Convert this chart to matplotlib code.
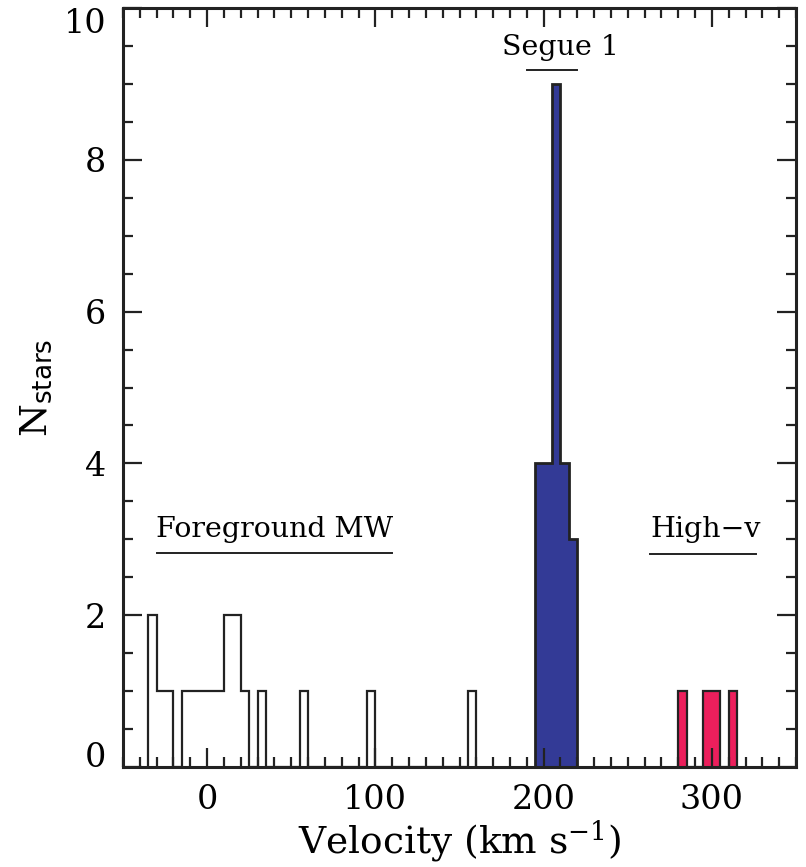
import numpy as np
import matplotlib
matplotlib.use('Agg')
import matplotlib.pyplot as plt
from matplotlib.ticker import MultipleLocator

plt.rcParams['font.family'] = ['DejaVu Serif']
plt.rcParams['mathtext.fontset'] = 'dejavuserif'

# 5 km/s bins: left edges and counts for each population
fg_edges = np.arange(-35, 165, 5)
fg_counts = [2, 1, 1, 0, 1, 1, 1, 1, 1, 2, 2, 1, 0, 1, 0, 0, 0, 0, 1, 0,
             0, 0, 0, 0, 0, 0, 1, 0, 0, 0, 0, 0, 0, 0, 0, 0, 0, 0, 1]
seg_edges = np.arange(195, 225, 5)
seg_counts = [4, 4, 9, 4, 3]
hv_edges = np.arange(280, 320, 5)
hv_counts = [1, 0, 0, 1, 1, 0, 1]

ytick_vals = [0, 2, 4, 6, 8, 10]

blue = '#333a96'
red = '#ec1f5c'

fig = plt.figure(figsize=(8.06, 8.67), dpi=100)
ax = fig.add_axes([0.1526, 0.1153, 0.835, 0.8755])

ax.stairs(fg_counts, fg_edges, color='#222222', lw=1.6)
ax.stairs(seg_counts, seg_edges, fill=True, color=blue)
ax.stairs(seg_counts, seg_edges, color='#222222', lw=2.0)
ax.stairs(hv_counts, hv_edges, fill=True, color=red)
ax.stairs(hv_counts, hv_edges, color='#222222', lw=1.6)

ax.set_xlim(-50, 350)
ax.set_ylim(0, 10)

ax.xaxis.set_major_locator(MultipleLocator(100))
ax.xaxis.set_minor_locator(MultipleLocator(10))
ax.set_yticks(ytick_vals)
ax.yaxis.set_minor_locator(MultipleLocator(0.5))
ax.tick_params(which='both', direction='in', top=True, right=True, width=1.6,
               labelsize=24, color='#222222')
ax.tick_params(which='major', length=14, pad=12)
ax.tick_params(which='minor', length=7)
for s in ax.spines.values():
    s.set_linewidth(2.2)
    s.set_color('#222222')

# keep the end labels inside the frame, like the original
yt = ax.yaxis.get_major_ticks()
yt[-1].label1.set_va('top')
yt[0].label1.set_va('baseline')

ax.set_xlabel(r'Velocity (km s$^{-1}$)', fontsize=27, labelpad=2)
ax.set_ylabel(r'N$_{\mathsf{stars}}$', fontsize=27, labelpad=6)

ax.text(40, 2.95, 'Foreground MW', fontsize=20.5, ha='center', va='bottom')
ax.plot([-30, 110], [2.82, 2.82], color='#222222', lw=1.4)
ax.text(210, 9.3, 'Segue 1', fontsize=20.5, ha='center', va='bottom')
ax.plot([190, 220], [9.18, 9.18], color='#222222', lw=1.4)
ax.text(296, 2.95, 'High\u2212v', fontsize=20.5, ha='center', va='bottom')
ax.plot([263, 326], [2.8, 2.8], color='#222222', lw=1.4)

fig.savefig('out.png', dpi=100)
